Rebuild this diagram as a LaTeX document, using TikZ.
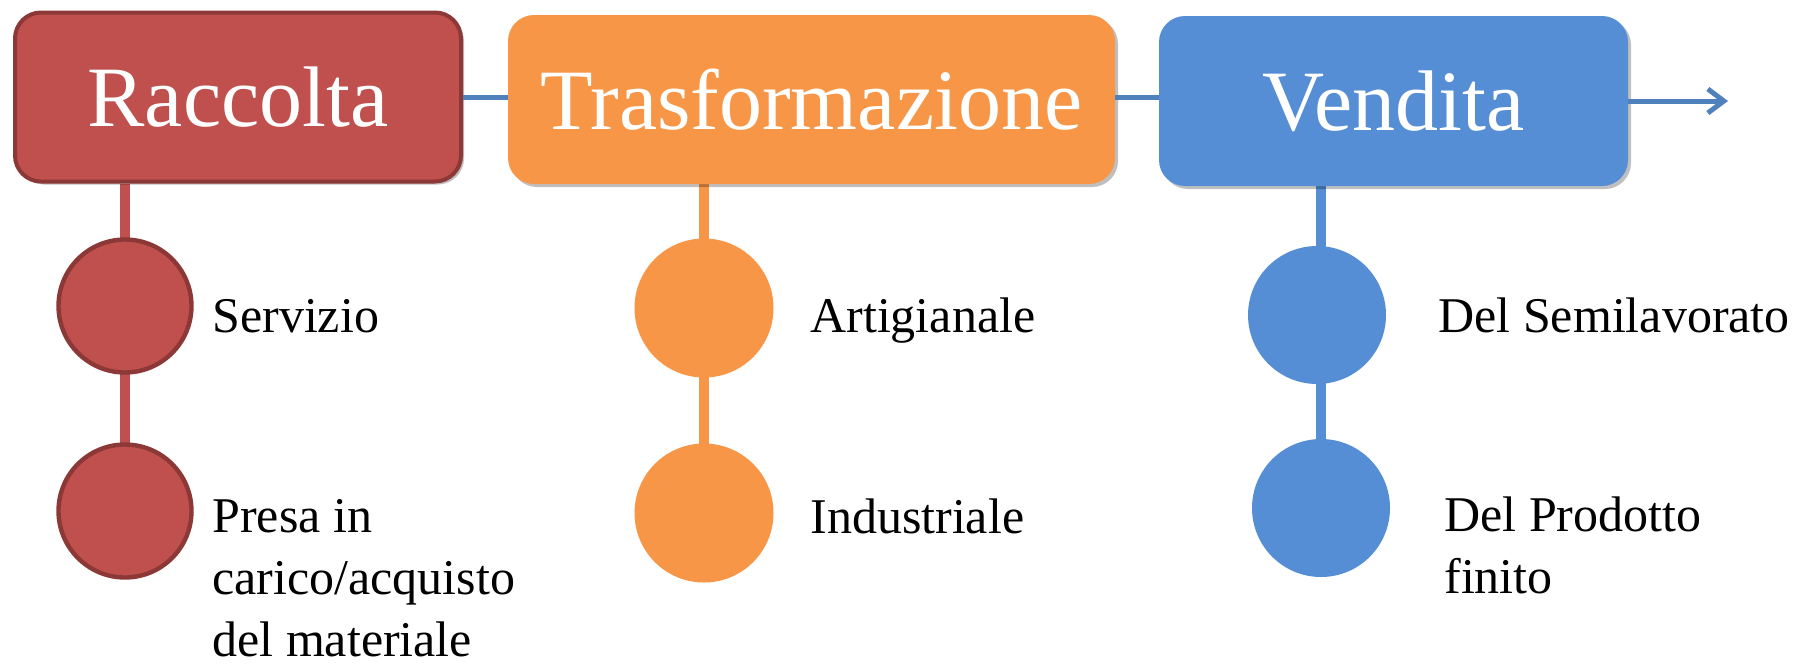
\documentclass[tikz,border=0pt]{standalone}
\usepackage{fontspec}
\setmainfont{Liberation Serif}
\usetikzlibrary{arrows.meta,shadows,backgrounds}
\definecolor{rfill}{HTML}{C0504D}
\definecolor{rdraw}{HTML}{8C3836}
\definecolor{ofill}{HTML}{F79646}
\definecolor{bfill}{HTML}{558ED5}
\definecolor{bline}{HTML}{4F81BD}
\begin{document}
\begin{tikzpicture}[x=0.5pt,y=-0.5pt,
  stage/.style={rounded corners=13pt, text=white, inner sep=0pt,
    font=\fontsize{43}{48}\selectfont,
    drop shadow={shadow xshift=1.5pt, shadow yshift=-1.5pt, opacity=0.25, fill=black}},
  dot/.style={circle, minimum size=69pt, inner sep=0pt},
  reddot/.style={dot, fill=rfill, draw=rdraw, line width=2.2pt, minimum size=66.5pt},
  item/.style={anchor=base west, inner sep=0pt, font=\fontsize{25}{31}\selectfont},
  hline/.style={draw=bline, line width=2.5pt},
  vline/.style={line width=5pt}]
\useasboundingbox (0,0) rectangle (1808,664);
% stages
\node[stage, fill=rfill, draw=rdraw, line width=2pt, minimum width=223pt, minimum height=84.5pt] (R) at (238,97) {Raccolta};
\node[stage, fill=ofill, minimum width=303.5pt, minimum height=84.5pt] (T) at (811.5,99.5) {Trasformazione};
\node[stage, fill=bfill, minimum width=234.5pt, minimum height=85pt] (V) at (1393.5,101) {Vendita};
\coordinate (end) at (1728,101);
% connectors between stages
\draw[hline] (R.east) -- (R.east -| T.west);
\draw[hline] (R.east -| T.east) -- (R.east -| V.west);
\draw[hline, -{Straight Barb[length=8pt,width=12pt]}] (V.east) -- (end);
% sub-items
\node[reddot] (r1) at (125,306) {};
\node[reddot] (r2) at (125,511) {};
\node[dot, fill=ofill, minimum size=69.5pt] (o1) at (704,308) {};
\node[dot, fill=ofill, minimum size=69.5pt] (o2) at (704,513) {};
\node[dot, fill=bfill] (b1) at (1317,315) {};
\node[dot, fill=bfill] (b2) at (1321,508) {};
\begin{pgfonlayer}{background}
\draw[vline, draw=rfill] (r1 |- R.south) -- (r2.center);
\draw[vline, draw=ofill] (o1 |- T.south) -- (o2.center);
\draw[vline, draw=bfill] (b2 |- V.south) -- (b2.center);
\end{pgfonlayer}
% labels
\node[item] (t1) at (212,332) {Servizio};
\node[item] (t2) at (212,532) {\vtop{\hbox{Presa in}\hbox{carico/acquisto}\hbox{del materiale}}};
\node[item] (t3) at (810,332) {Artigianale};
\node[item] (t4) at (810,533) {Industriale};
\node[item] (t5) at (1438,332) {Del Semilavorato};
\node[item] (t6) at (1444,531) {\vtop{\hbox{Del Prodotto}\hbox{finito}}};
\end{tikzpicture}
\end{document}
